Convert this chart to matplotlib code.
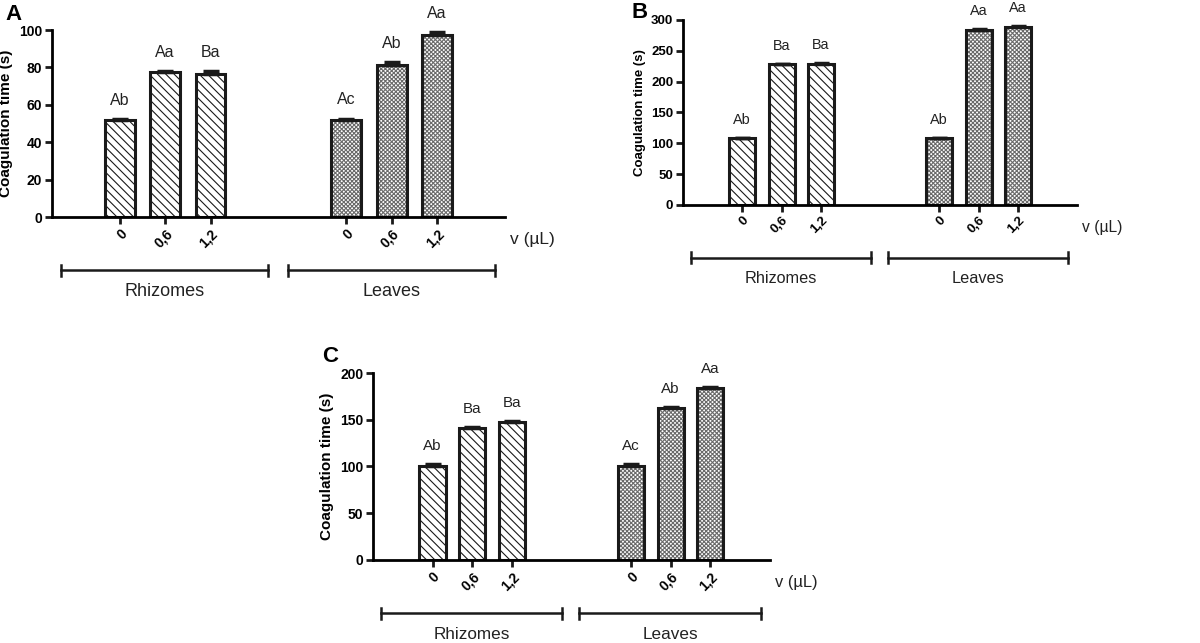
import matplotlib
matplotlib.use("Agg")
import matplotlib.pyplot as plt
import matplotlib.transforms as mtransforms
import numpy as np

plt.rcParams['font.family'] = ['Liberation Sans', 'DejaVu Sans']
plt.rcParams['hatch.linewidth'] = 0.8

doses = ["0", "0,6", "1,2"]

# panel A
a_rhizomes = [52, 77.5, 76.5]
a_rhizomes_err = [0.5, 0.6, 1.5]
a_leaves = [52, 81.5, 97.5]
a_leaves_err = [0.6, 1.5, 1.2]
a_rh_letters = ["Ab", "Aa", "Ba"]
a_lv_letters = ["Ac", "Ab", "Aa"]

# panel B
b_rhizomes = [108, 228, 229]
b_rhizomes_err = [0.8, 1.2, 1.5]
b_leaves = [108, 284, 289]
b_leaves_err = [0.8, 1.5, 1.5]
b_rh_letters = ["Ab", "Ba", "Ba"]
b_lv_letters = ["Ab", "Aa", "Aa"]

# panel C
c_rhizomes = [101, 141, 147.5]
c_rhizomes_err = [1.5, 1.5, 0.8]
c_leaves = [101, 163, 184]
c_leaves_err = [1.5, 0.8, 1.0]
c_rh_letters = ["Ab", "Ba", "Ba"]
c_lv_letters = ["Ac", "Ab", "Aa"]

EDGE = '#1a1a1a'


def draw_panel(ax, rh, rh_err, lv, lv_err, rh_let, lv_let, ymax, ystep, s, tick_fs, ylab_fs):
    xr = np.array([1.5, 2.5, 3.5])
    xl = np.array([6.5, 7.5, 8.5])
    ax.bar(xr, rh, width=0.66, facecolor='white', edgecolor=EDGE,
           linewidth=2.2, hatch='\\\\\\\\')
    # leaves: fine gray checker, then dark outline on top
    ax.bar(xl, lv, width=0.66, facecolor='white', edgecolor='#6a6a6a',
           linewidth=0, hatch='xxxxxxxx')
    ax.bar(xl, lv, width=0.66, fill=False, edgecolor=EDGE, linewidth=2.2)
    for xs, vals, errs in [(xr, rh, rh_err), (xl, lv, lv_err)]:
        ax.errorbar(xs, vals, yerr=[np.zeros(3), errs], fmt='none',
                    ecolor=EDGE, elinewidth=2.2, capsize=6 * s, capthick=2.5)
    off = ymax * 0.06
    for xs, vals, errs, lets in [(xr, rh, rh_err, rh_let), (xl, lv, lv_err, lv_let)]:
        for x, v, e, t in zip(xs, vals, errs, lets):
            ax.text(x, v + e + off, t, ha='center', va='bottom', fontsize=11.5 * s,
                    color='#222222')

    ax.set_xlim(0, 10)
    ax.set_ylim(0, ymax)
    ax.set_yticks(np.arange(0, ymax + 1, ystep))
    ax.set_xticks(list(xr) + list(xl))
    ax.set_xticklabels(doses + doses, rotation=45, ha='right', va='top',
                       rotation_mode='anchor', fontweight='bold', fontsize=tick_fs)
    for lab in ax.get_yticklabels():
        lab.set_fontweight('bold')
        lab.set_fontsize(tick_fs)
    ax.set_ylabel("Coagulation time (s)", fontweight='bold', fontsize=ylab_fs,
                  labelpad=4)
    ax.spines['top'].set_visible(False)
    ax.spines['right'].set_visible(False)
    ax.spines['left'].set_linewidth(2)
    ax.spines['bottom'].set_linewidth(2)
    ax.tick_params(width=2, length=5, direction='out', pad=2, color=EDGE)

    trans = mtransforms.blended_transform_factory(ax.transData, ax.transAxes)
    for x0, x1, name in [(0.2, 4.77, "Rhizomes"), (5.2, 9.78, "Leaves")]:
        ax.plot([x0, x1], [-0.285, -0.285], color=EDGE, lw=1.8,
                transform=trans, clip_on=False)
        for xe in (x0, x1):
            ax.plot([xe, xe], [-0.255, -0.315], color=EDGE, lw=1.8,
                    transform=trans, clip_on=False)
        ax.text((x0 + x1) / 2, -0.40, name, transform=trans, ha='center',
                va='center', fontsize=13 * s, color='#222222')
    ax.text(1.012, -0.12, "v (µL)", transform=ax.transAxes, ha='left',
            va='center', fontsize=12.5 * s, color='#222222')
    return ax


fig = plt.figure(figsize=(12, 6.43), dpi=100)

axA = fig.add_axes([0.0433, 0.6625, 0.3775, 0.2908])
draw_panel(axA, a_rhizomes, a_rhizomes_err, a_leaves, a_leaves_err,
           a_rh_letters, a_lv_letters, 100, 20, 1.0, 10, 11)

axB = fig.add_axes([0.5692, 0.6812, 0.3283, 0.2877])
draw_panel(axB, b_rhizomes, b_rhizomes_err, b_leaves, b_leaves_err,
           b_rh_letters, b_lv_letters, 300, 50, 0.9, 9.5, 9.5)

axC = fig.add_axes([0.3108, 0.1291, 0.3308, 0.2908])
draw_panel(axC, c_rhizomes, c_rhizomes_err, c_leaves, c_leaves_err,
           c_rh_letters, c_lv_letters, 200, 50, 0.95, 10, 11)

fig.text(5 / 1200, 1 - 15 / 643, "A", fontsize=16, fontweight='bold', va='center')
fig.text(632 / 1200, 1 - 12 / 643, "B", fontsize=16, fontweight='bold', va='center')
fig.text(322 / 1200, 1 - 357 / 643, "C", fontsize=16, fontweight='bold', va='center')

fig.savefig("out.png", dpi=100)
